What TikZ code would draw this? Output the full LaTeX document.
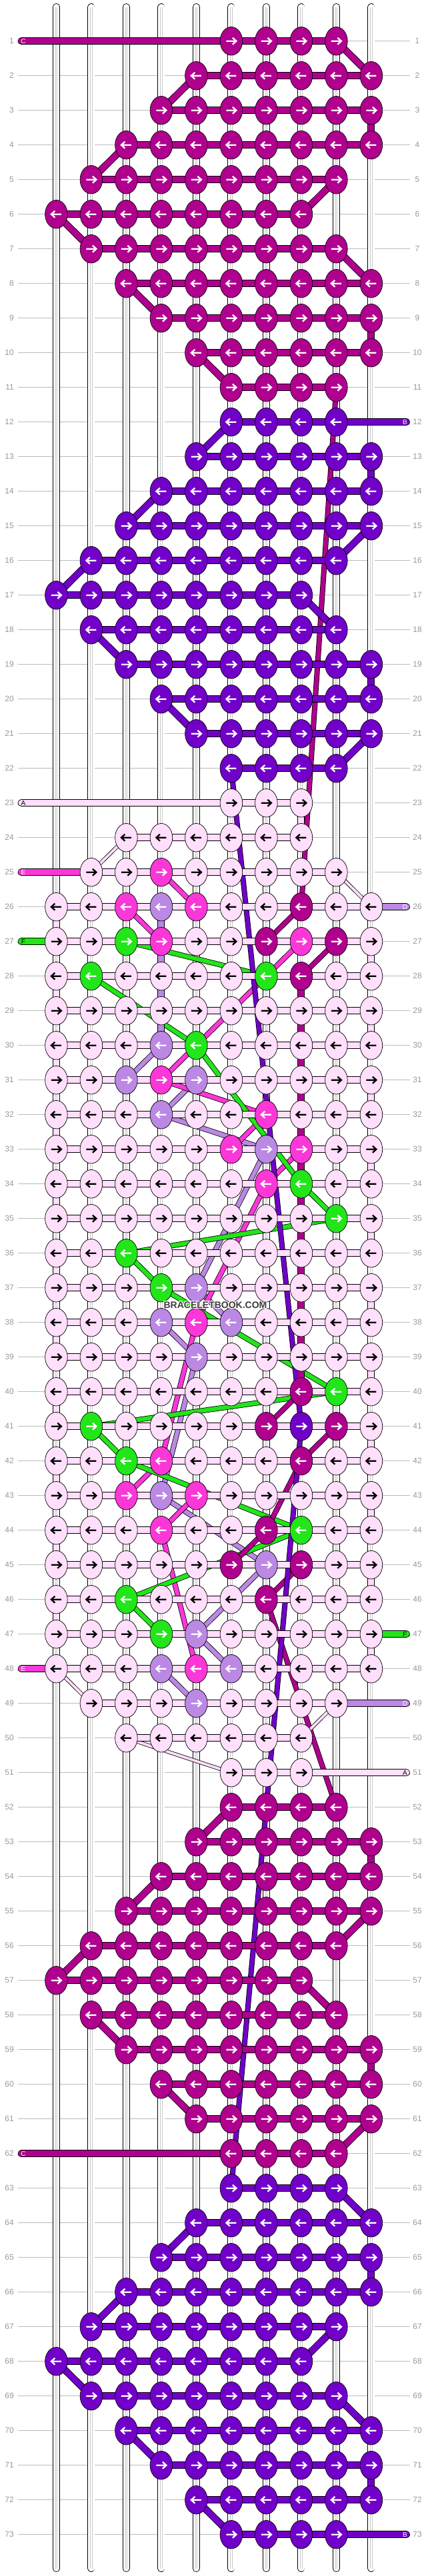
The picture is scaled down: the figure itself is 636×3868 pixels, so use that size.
\documentclass[tikz,border=0pt]{standalone}
\usepackage{fontspec}
\setmainfont{Liberation Sans}
\usetikzlibrary{shapes.geometric}
\definecolor{cA}{HTML}{FFDFFB}
\definecolor{cB}{HTML}{7100C9}
\definecolor{cC}{HTML}{B0008E}
\definecolor{cD}{HTML}{BB88E4}
\definecolor{cE}{HTML}{FB37D8}
\definecolor{cF}{HTML}{22E51A}
\definecolor{gridgray}{HTML}{BBBBBB}
\definecolor{labgray}{HTML}{999999}
\definecolor{wmgray}{HTML}{3C3C3C}
\newcommand\mybnd[3]{\draw[line width=10.7pt] (#2) -- (#3); \draw[line width=9.1pt, color=#1] (#2) -- (#3);}
\newcommand\mythr[3]{\draw[line width=8pt] (#2) -- (#3); \draw[line width=6.4pt, color=#1] (#2) -- (#3);}
\newcommand\mythn[3]{\draw[line width=5.6pt] (#2) -- (#3); \draw[line width=4pt, color=#1] (#2) -- (#3);}
\newcommand\mylabband[3]{\draw[line width=10.7pt, line cap=round] (#2) -- (#3); \draw[line width=9.1pt, line cap=round, color=#1] (#2) -- (#3);}
\newcommand\knotat[4]{%
  \pgfmathtruncatemacro\mysgn{2*mod(#1,2)-1}%
  \node[knotbox, fill=#3] (k#1-#2) at (p#1-#2) {};
  \draw[arr, color=#4] (p#1-#2) +({-7.5*(\mysgn)},0) -- +({7*(\mysgn)},0) +({2*(\mysgn)},-5) -- +({7.5*(\mysgn)},0) -- +({2*(\mysgn)},5);
}
\begin{document}
\begin{tikzpicture}[x=1pt,y=-1pt,
  knotbox/.style={ellipse, draw=black, line width=0.7pt, minimum width=33.6pt, minimum height=42.5pt, inner sep=0pt, outer sep=0pt},
  rowlab/.style={text=labgray, font=\fontsize{12}{12}\selectfont, inner sep=0pt},
  gridline/.style={draw=gridgray, line width=0.9pt},
  endlab/.style={font=\fontsize{10}{10}\selectfont, inner sep=0pt},
  wm/.style={font=\fontsize{14}{14}\selectfont\bfseries, inner sep=0pt},
  arr/.style={line width=2.3pt, line join=miter, line cap=butt}
]
\fill[white] (0,0) rectangle (636,3868);
\useasboundingbox (0,0) rectangle (636,3868);

% grid coordinates, row lines and labels
\foreach \r in {1,...,73}{
  \foreach \c in {1,...,10}{
    \coordinate (p\r-\c) at ({84.4+(\c-1)*52.5},{61.7+(\r-1)*52});
  }
  \coordinate (L\r) at (32,{61.7+(\r-1)*52});
  \coordinate (R\r) at (609.6,{61.7+(\r-1)*52});
  \coordinate (GL\r) at (26.6,{61.7+(\r-1)*52});
  \coordinate (GR\r) at (615,{61.7+(\r-1)*52});
  \draw[gridline] (GL\r) -- (GR\r);
  \node[rowlab, anchor=east] (ll\r) at (21,{61.7+(\r-1)*52}) {\r};
  \node[rowlab] (rl\r) at (626,{61.7+(\r-1)*52}) {\r};
}

% warp strands
\foreach \c in {1,...,10}{
  \coordinate (st\c) at ({84.4+(\c-1)*52.5},10.5);
  \coordinate (sb\c) at ({84.4+(\c-1)*52.5},3856.5);
  \draw[line width=11pt, line cap=round] (st\c) -- (sb\c);
  \draw[line width=9.2pt, white, line cap=round] (st\c) -- (sb\c);
  \draw[line width=3.4pt, color=black!22] (st\c) -- (sb\c);
  \draw[line width=1.4pt, white] (st\c) -- (sb\c);
}

% carried threads
\mythr{cD}{p30-4}{p31-3}
\mythr{cD}{p31-5}{p32-4}
\mythr{cD}{p32-4}{p33-7}
\mythr{cD}{p33-7}{p37-5}
\mythr{cD}{p37-5}{p38-6}
\mythr{cD}{p38-4}{p39-5}
\mythr{cD}{p39-5}{p43-4}
\mythr{cD}{p43-4}{p45-7}
\mythr{cD}{p45-7}{p47-5}
\mythr{cD}{p47-5}{p48-6}
\mythr{cD}{p48-4}{p49-5}
\mythr{cE}{p25-4}{p26-5}
\mythr{cE}{p26-3}{p27-4}
\mythr{cE}{p27-8}{p31-4}
\mythr{cE}{p31-4}{p32-7}
\mythr{cE}{p32-7}{p33-6}
\mythr{cE}{p33-8}{p34-7}
\mythr{cE}{p34-7}{p38-5}
\mythr{cE}{p38-5}{p42-4}
\mythr{cE}{p42-4}{p43-3}
\mythr{cE}{p43-5}{p44-4}
\mythr{cE}{p44-4}{p48-5}
\mythr{cF}{p27-3}{p28-7}
\mythr{cF}{p28-2}{p30-5}
\mythr{cF}{p30-5}{p34-8}
\mythr{cF}{p34-8}{p35-9}
\mythr{cF}{p35-9}{p36-3}
\mythr{cF}{p36-3}{p37-4}
\mythr{cF}{p37-4}{p40-9}
\mythr{cF}{p40-9}{p41-2}
\mythr{cF}{p41-2}{p42-3}
\mythr{cF}{p42-3}{p44-8}
\mythr{cF}{p44-8}{p46-3}
\mythr{cF}{p46-3}{p47-4}
\mythr{cC}{p11-9}{p26-8}
\mythr{cC}{p26-8}{p27-7}
\mythr{cC}{p27-9}{p28-8}
\mythr{cC}{p40-8}{p41-7}
\mythr{cC}{p41-9}{p42-8}
\mythr{cC}{p42-8}{p44-7}
\mythr{cC}{p44-7}{p45-6}
\mythr{cC}{p45-8}{p46-7}
\mythr{cC}{p46-7}{p52-9}
\mythr{cB}{p22-6}{p41-8}
\mythr{cB}{p41-8}{p63-6}

% vertical carried bands
\mybnd{cC}{p28-8}{p40-8}
\mybnd{cD}{p26-4}{p30-4}

% turns
\foreach \r/\a/\b/\col in {1/9/10/cC,2/5/4/cC,3/10/10/cC,4/3/2/cC,5/9/8/cC,6/1/2/cC,7/9/10/cC,8/3/4/cC,9/10/10/cC,10/5/6/cC,
12/6/5/cB,13/10/10/cB,14/4/3/cB,15/10/9/cB,16/2/1/cB,17/8/9/cB,18/2/3/cB,19/10/10/cB,20/4/5/cB,21/10/9/cB,
52/6/5/cC,53/10/10/cC,54/4/3/cC,55/10/9/cC,56/2/1/cC,57/8/9/cC,58/2/3/cC,59/10/10/cC,60/4/5/cC,61/10/9/cC,
63/9/10/cB,64/5/4/cB,65/10/10/cB,66/3/2/cB,67/9/8/cB,68/1/2/cB,69/9/10/cB,70/3/4/cB,71/10/10/cB,72/5/6/cB,
23/8/8/cA}{
  \pgfmathtruncatemacro\rn{\r+1}
  \mybnd{\col}{p\r-\a}{p\rn-\b}
}
\foreach \r in {26,...,47}{
  \pgfmathtruncatemacro\rn{\r+1}
  \pgfmathtruncatemacro\tc{mod(\r,2)==0 ? 1 : 10}
  \mybnd{cA}{p\r-\tc}{p\rn-\tc}
}
\mythn{cA}{p24-3}{p25-2}
\mythn{cA}{p25-9}{p26-10}
\mythn{cA}{p48-1}{p49-2}
\mythn{cA}{p49-9}{p50-8}
\mythn{cA}{p50-3}{p51-6}

% label bands
\mylabband{cC}{L1}{p1-6}
\mylabband{cB}{p12-9}{R12}
\mylabband{cA}{L23}{p23-6}
\mylabband{cE}{L25}{p25-2}
\mylabband{cD}{p26-10}{R26}
\mylabband{cF}{L27}{p27-1}
\mylabband{cF}{p47-10}{R47}
\mylabband{cE}{L48}{p48-1}
\mylabband{cD}{p49-9}{R49}
\mylabband{cA}{p51-8}{R51}
\mylabband{cC}{L62}{p62-6}
\mylabband{cB}{p73-9}{R73}

% horizontal bands
\foreach \r/\a/\b/\col in {1/6/9/cC,2/5/10/cC,3/4/10/cC,4/3/10/cC,5/2/9/cC,6/1/8/cC,7/2/9/cC,8/3/10/cC,9/4/10/cC,10/5/10/cC,11/6/9/cC,
12/6/9/cB,13/5/10/cB,14/4/10/cB,15/3/10/cB,16/2/9/cB,17/1/8/cB,18/2/9/cB,19/3/10/cB,20/4/10/cB,21/5/10/cB,22/6/9/cB,
52/6/9/cC,53/5/10/cC,54/4/10/cC,55/3/10/cC,56/2/9/cC,57/1/8/cC,58/2/9/cC,59/3/10/cC,60/4/10/cC,61/5/10/cC,62/6/9/cC,
63/6/9/cB,64/5/10/cB,65/4/10/cB,66/3/10/cB,67/2/9/cB,68/1/8/cB,69/2/9/cB,70/3/10/cB,71/4/10/cB,72/5/10/cB,73/6/9/cB,
23/6/8/cA,24/3/8/cA,25/2/9/cA,49/2/9/cA,50/3/8/cA,51/6/8/cA}{
  \mybnd{\col}{p\r-\a}{p\r-\b}
}
\foreach \r in {26,...,48}{
  \mybnd{cA}{p\r-1}{p\r-10}
}

% knots, uniform sections
\foreach \r/\a/\b/\col in {1/6/9/cC,2/5/10/cC,3/4/10/cC,4/3/10/cC,5/2/9/cC,6/1/8/cC,7/2/9/cC,8/3/10/cC,9/4/10/cC,10/5/10/cC,11/6/9/cC,
12/6/9/cB,13/5/10/cB,14/4/10/cB,15/3/10/cB,16/2/9/cB,17/1/8/cB,18/2/9/cB,19/3/10/cB,20/4/10/cB,21/5/10/cB,22/6/9/cB,
52/6/9/cC,53/5/10/cC,54/4/10/cC,55/3/10/cC,56/2/9/cC,57/1/8/cC,58/2/9/cC,59/3/10/cC,60/4/10/cC,61/5/10/cC,62/6/9/cC,
63/6/9/cB,64/5/10/cB,65/4/10/cB,66/3/10/cB,67/2/9/cB,68/1/8/cB,69/2/9/cB,70/3/10/cB,71/4/10/cB,72/5/10/cB,73/6/9/cB}{
  \foreach \c in {\a,...,\b}{
    \knotat{\r}{\c}{\col}{white}
  }
}

% knots, middle section
\foreach \r/\za/\zb/\zc/\zd/\ze/\zf/\zg/\zh/\zi/\zj in {
23/N/N/N/N/N/A/A/A/N/N,
24/N/N/A/A/A/A/A/A/N/N,
25/N/A/A/E/A/A/A/A/A/N,
26/A/A/E/D/E/A/A/C/A/A,
27/A/A/F/E/A/A/C/E/C/A,
28/A/F/A/A/A/A/F/C/A/A,
29/A/A/A/A/A/A/A/A/A/A,
30/A/A/A/D/F/A/A/A/A/A,
31/A/A/D/E/D/A/A/A/A/A,
32/A/A/A/D/A/A/E/A/A/A,
33/A/A/A/A/A/E/D/E/A/A,
34/A/A/A/A/A/A/E/F/A/A,
35/A/A/A/A/A/A/A/A/F/A,
36/A/A/F/A/A/A/A/A/A/A,
37/A/A/A/F/D/A/A/A/A/A,
38/A/A/A/D/E/D/A/A/A/A,
39/A/A/A/A/D/A/A/A/A/A,
40/A/A/A/A/A/A/A/C/F/A,
41/A/F/A/A/A/A/C/B/C/A,
42/A/A/F/E/A/A/A/C/A/A,
43/A/A/E/D/E/A/A/A/A/A,
44/A/A/A/E/A/A/C/F/A/A,
45/A/A/A/A/A/C/D/C/A/A,
46/A/A/F/A/A/A/C/A/A/A,
47/A/A/A/F/D/A/A/A/A/A,
48/A/A/A/D/E/D/A/A/A/A,
49/N/A/A/A/D/A/A/A/A/N,
50/N/N/A/A/A/A/A/A/N/N,
51/N/N/N/N/N/A/A/A/N/N}{
  \foreach \c/\k in {1/\za,2/\zb,3/\zc,4/\zd,5/\ze,6/\zf,7/\zg,8/\zh,9/\zi,10/\zj}{
    \if\k N\relax\else
      \if\k A\def\acol{black}\else\def\acol{white}\fi
      \edef\kcol{c\k}%
      \knotat{\r}{\c}{\kcol}{\acol}
    \fi
  }
}

% band end letters
\node[endlab, text=white] (tC1) at (35,61.7) {C};
\node[endlab, text=white] (tB12) at (607.5,{61.7+11*52}) {B};
\node[endlab, text=black] (tA23) at (35,{61.7+22*52}) {A};
\node[endlab, text=white] (tE25) at (35,{61.7+24*52}) {E};
\node[endlab, text=white] (tD26) at (607.5,{61.7+25*52}) {D};
\node[endlab, text=black] (tF27) at (35,{61.7+26*52}) {F};
\node[endlab, text=black] (tF47) at (607.5,{61.7+46*52}) {F};
\node[endlab, text=white] (tE48) at (35,{61.7+47*52}) {E};
\node[endlab, text=white] (tD49) at (607.5,{61.7+48*52}) {D};
\node[endlab, text=black] (tA51) at (607.5,{61.7+50*52}) {A};
\node[endlab, text=white] (tC62) at (35,{61.7+61*52}) {C};
\node[endlab, text=white] (tB73) at (607.5,{61.7+72*52}) {B};

% watermark
\foreach \dx/\dy in {-1/-1,-1/0,-1/1,0/-1,0/1,1/-1,1/0,1/1}{
  \node[wm, text=white] at ({323+\dx},{1960+\dy}) {BRACELETBOOK.COM};
}
\node[wm, text=wmgray] (wmark) at (323,1960) {BRACELETBOOK.COM};
\end{tikzpicture}
\end{document}
